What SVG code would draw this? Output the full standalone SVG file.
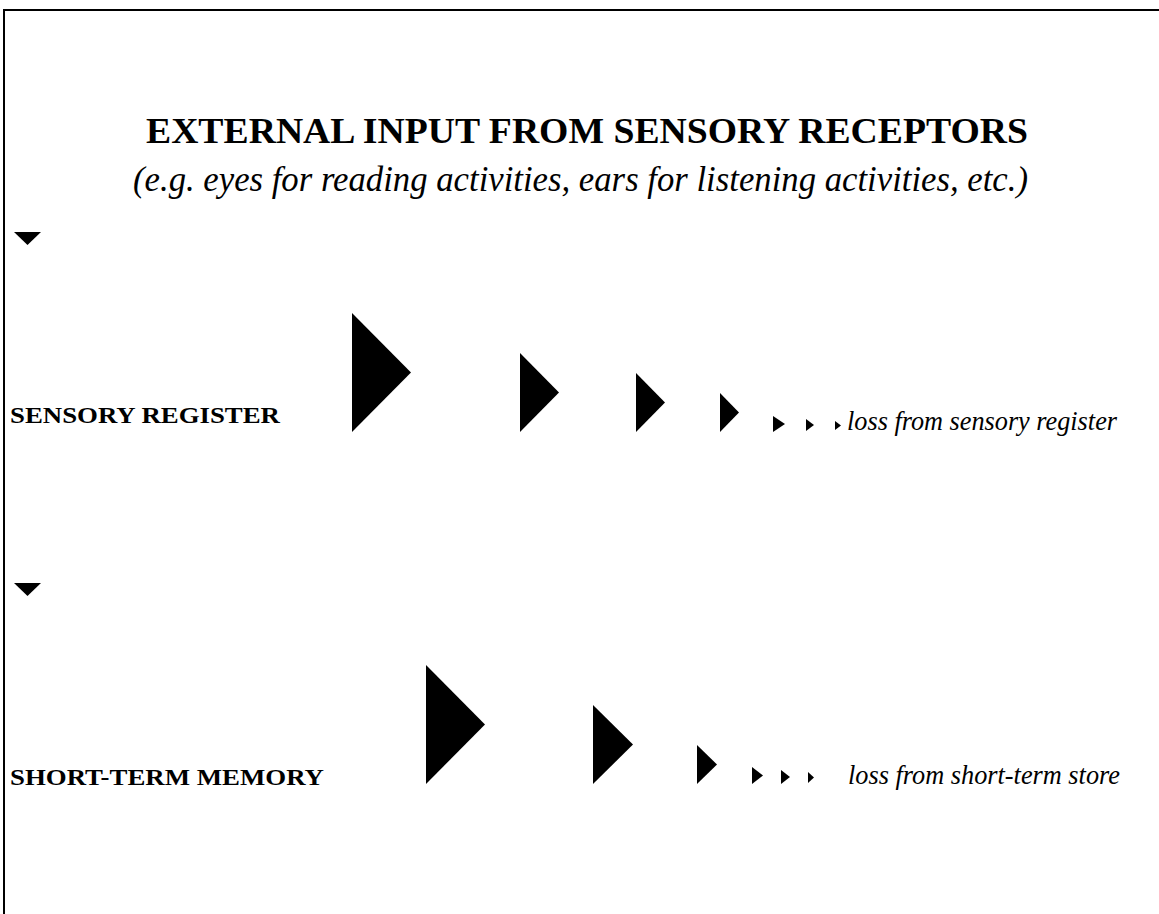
<svg xmlns="http://www.w3.org/2000/svg" width="1159" height="914" viewBox="0 0 1159 914">
<style>
.t{font-family:"Liberation Serif","Times New Roman",serif;fill:#000}
.b{font-weight:bold}
.i{font-style:italic}
.tri{fill:#000;stroke:none}
</style>
<rect x="0" y="0" width="1159" height="914" fill="#fff"/>
<path d="M4,914 V10 H1159" fill="none" stroke="#000" stroke-width="2"/>
<g id="title">
<text class="t b" x="146" y="143" font-size="36" textLength="882" lengthAdjust="spacingAndGlyphs">EXTERNAL INPUT FROM SENSORY RECEPTORS</text>
</g>
<g id="subtitle">
<text class="t i" x="133" y="191" font-size="36" textLength="895" lengthAdjust="spacingAndGlyphs">(e.g. eyes for reading activities, ears for listening activities, etc.)</text>
</g>
<g id="sensory-register">
<text class="t b" x="10" y="423" font-size="24" textLength="270" lengthAdjust="spacingAndGlyphs">SENSORY REGISTER</text>
</g>
<g id="sensory-loss">
<text class="t i" x="847" y="430" font-size="28" textLength="270" lengthAdjust="spacingAndGlyphs">loss from sensory register</text>
</g>
<g id="short-term-memory">
<text class="t b" x="10" y="785" font-size="24" textLength="314" lengthAdjust="spacingAndGlyphs">SHORT-TERM MEMORY</text>
</g>
<g id="short-term-loss">
<text class="t i" x="848" y="784" font-size="28" textLength="272" lengthAdjust="spacingAndGlyphs">loss from short-term store</text>
</g>
<g id="connectors">
<polygon class="tri" points="14,232 41,232 27.5,245"/>
<polygon class="tri" points="14,583 41,583 27.5,596"/>
<polygon class="tri" points="352,313 411,372.5 352,432"/>
<polygon class="tri" points="520,353 559,392.5 520,432"/>
<polygon class="tri" points="636,373 665,402.5 636,432"/>
<polygon class="tri" points="720,393 739,412.5 720,432"/>
<polygon class="tri" points="773,416 785,424 773,432"/>
<polygon class="tri" points="806,419 814,425 806,431"/>
<polygon class="tri" points="835,421 841,425.5 835,430"/>
<polygon class="tri" points="426,665 485,724.5 426,784"/>
<polygon class="tri" points="593,705 633,744.5 593,784"/>
<polygon class="tri" points="697,745 717,764.5 697,784"/>
<polygon class="tri" points="752,767 763,775.5 752,784"/>
<polygon class="tri" points="781,770 790,777 781,784"/>
<polygon class="tri" points="808,772 814,777.5 808,783"/>
</g>
</svg>
